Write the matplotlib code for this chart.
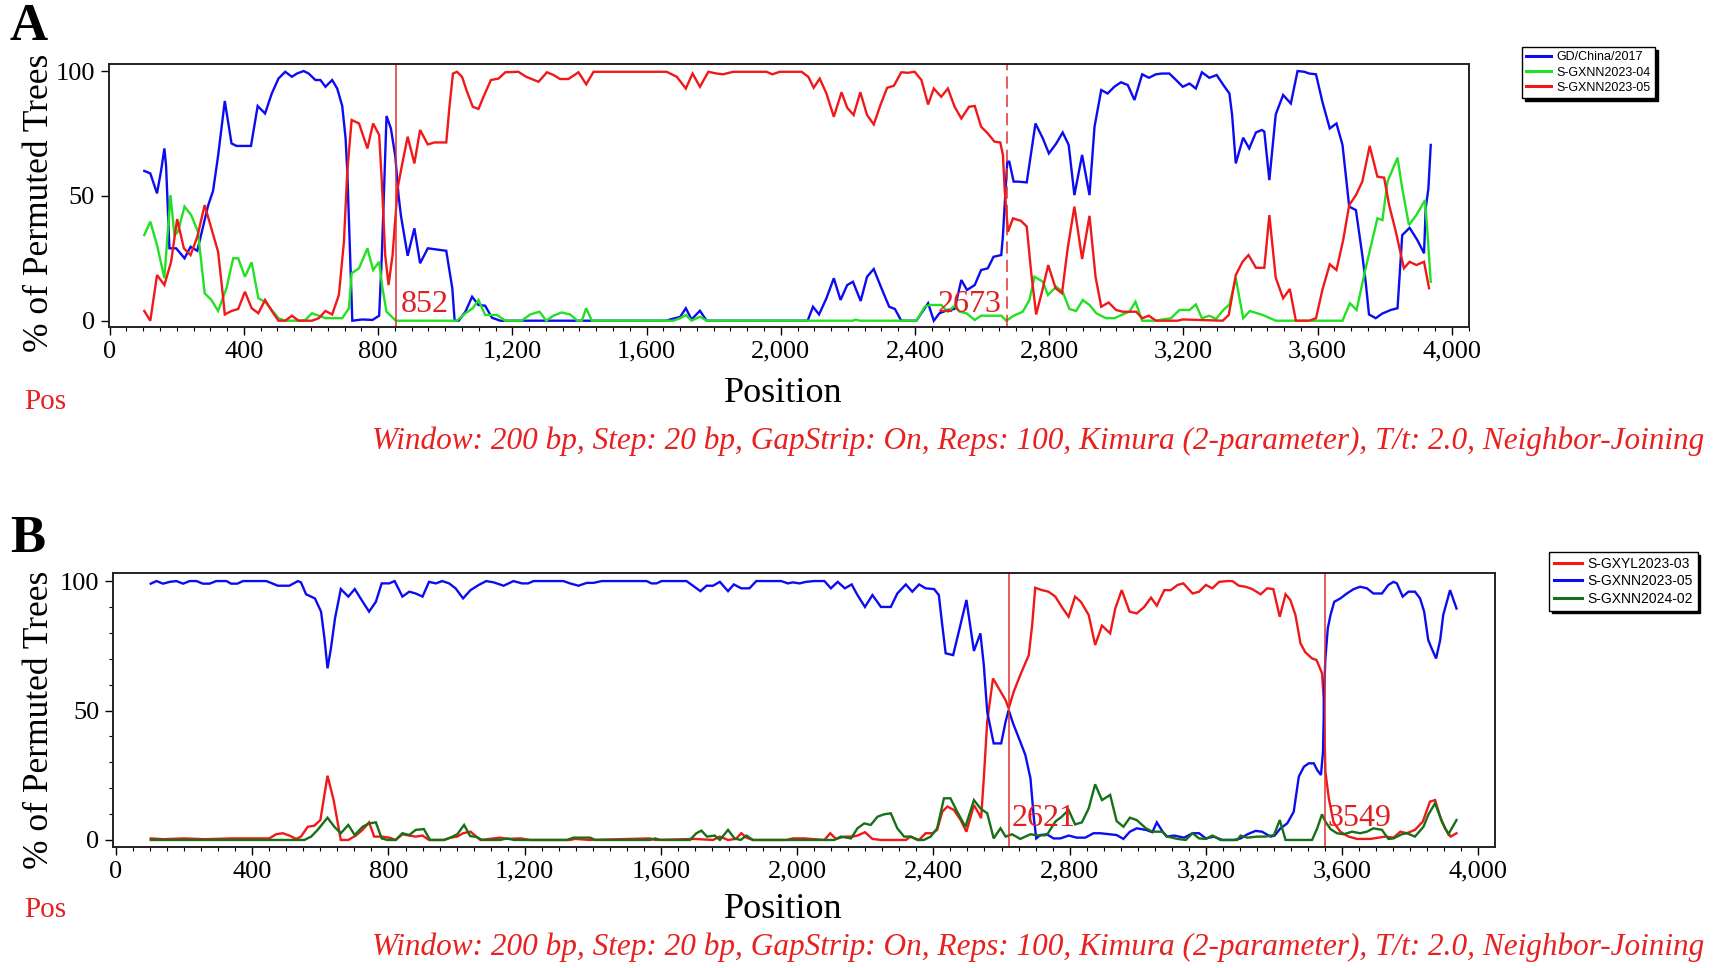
import matplotlib
matplotlib.use("Agg")
import matplotlib.pyplot as plt
from matplotlib.ticker import MultipleLocator, FuncFormatter

# ---- panel A: (position, % of permuted trees) ----
a_blue = [(103, 60), (121, 59), (141, 51), (153, 60), (163, 69), (168, 62), (178, 29), (198, 29),
          (223, 25), (241, 29.6), (261, 28), (293, 46), (308, 52), (323, 66), (343, 88), (363, 71),
          (378, 70), (421, 70), (441, 86), (463, 83), (483, 91), (503, 97), (523, 99.7), (543, 97.7),
          (558, 99), (578, 100), (593, 99), (613, 96.4), (628, 96.4), (643, 93.7), (663, 96.4),
          (678, 93), (693, 86), (703, 73), (708, 60), (715, 32), (723, 0), (753, 0.5), (783, 0.3),
          (803, 2), (811, 26), (825, 82), (838, 77), (851, 66), (861, 50), (868, 42), (888, 26),
          (908, 37), (925, 23), (948, 29), (1003, 28), (1021, 13), (1028, 0), (1040, 0), (1060, 3.6),
          (1080, 9.6), (1099, 6.3), (1119, 6), (1139, 1.2), (1164, 0), (1660, 0), (1670, 0.5),
          (1700, 1.5), (1717, 5), (1734, 0.5), (1759, 4), (1779, 0), (2080, 0), (2096, 5.6),
          (2114, 2.5), (2136, 9), (2158, 17), (2178, 8.3), (2198, 14.3), (2215, 15.6), (2238, 7.9),
          (2257, 17.6), (2277, 20.7), (2300, 13), (2323, 5.6), (2340, 4.7), (2359, 0), (2404, 0),
          (2439, 7), (2456, 0), (2473, 3), (2498, 4.3), (2518, 4.7), (2538, 16.3), (2555, 12.3),
          (2578, 14.3), (2597, 20.3), (2617, 21), (2634, 25.6), (2657, 26.3), (2662, 34), (2670, 53),
          (2675, 63.7), (2681, 63.7), (2694, 55.7), (2707, 55.7), (2733, 55.4), (2759, 79),
          (2781, 73), (2799, 67), (2821, 71), (2840, 75.4), (2858, 70.4), (2875, 50.3), (2898, 66.4),
          (2920, 50.3), (2935, 77.7), (2955, 92.4), (2974, 91), (2994, 93.7), (3014, 95.5),
          (3034, 94.4), (3054, 88.4), (3077, 98.7), (3097, 97.3), (3118, 98.7), (3136, 99),
          (3158, 99), (3178, 96.4), (3198, 93.7), (3218, 95), (3237, 93), (3255, 99.5), (3277, 97.3),
          (3299, 98.4), (3319, 94.4), (3337, 91), (3345, 82.4), (3356, 63), (3378, 73.3), (3396, 69),
          (3416, 75.4), (3434, 76.4), (3441, 75.7), (3456, 56.3), (3475, 82.6), (3497, 90.4),
          (3520, 87), (3540, 100), (3560, 99.7), (3575, 99), (3595, 98.7), (3614, 87.7), (3636, 77),
          (3656, 79), (3674, 70.4), (3694, 45.7), (3714, 44.3), (3733, 26.3), (3743, 15.6),
          (3753, 2.5), (3773, 1), (3793, 2.9), (3818, 4.3), (3838, 5), (3852, 34.3), (3874, 37.2),
          (3897, 32.3), (3917, 27), (3922, 45), (3930, 53), (3937, 70.4)]

a_green = [(103, 34.3), (121, 39.7), (141, 30.3), (163, 17), (181, 50.3), (193, 34.3), (203, 35.6),
           (223, 45.7), (243, 42.3), (263, 35.6), (283, 11), (303, 8.3), (323, 3.9), (348, 13),
           (368, 25), (383, 25), (403, 17.6), (423, 23.4), (443, 9), (463, 7.6), (483, 4.3), (503, 1),
           (523, 0), (563, 0), (583, 0.3), (603, 3), (623, 2), (643, 1), (693, 1), (713, 5), (721, 19),
           (743, 21), (768, 29), (785, 20.3), (803, 23.6), (813, 13), (825, 3.6), (853, 0), (1035, 0),
           (1060, 3), (1082, 5), (1099, 8.3), (1119, 2.3), (1154, 2.3), (1179, 0), (1228, 0),
           (1253, 2.5), (1281, 3.6), (1301, 0), (1322, 2), (1347, 3.3), (1372, 2.5), (1394, 0),
           (1407, 0), (1420, 5), (1437, 0), (1680, 0), (1700, 1), (1717, 2.3), (1734, 0), (1759, 1.6),
           (1779, 0), (2215, 0), (2222, 0.4), (2235, 0), (2404, 0), (2429, 5.6), (2444, 6.3),
           (2478, 6.3), (2498, 3.6), (2518, 6), (2533, 3.6), (2553, 3), (2578, 0.3), (2597, 2),
           (2657, 2), (2672, 0), (2694, 2), (2721, 3.6), (2741, 8.3), (2756, 17.6), (2781, 15.6),
           (2796, 10.3), (2821, 13.6), (2840, 11.6), (2860, 4.7), (2880, 3.9), (2900, 8.3),
           (2920, 6.3), (2940, 3), (2969, 1), (2994, 1), (3019, 2.5), (3039, 3.6), (3057, 7.6),
           (3077, 0), (3118, 0), (3138, 0.5), (3163, 1), (3188, 4.3), (3218, 4.3), (3237, 6.5),
           (3255, 1), (3277, 2), (3297, 0.7), (3319, 4.3), (3337, 6.5), (3356, 17), (3378, 1),
           (3398, 3.9), (3436, 2.3), (3475, 0), (3674, 0), (3696, 7), (3716, 4.3), (3743, 21),
           (3778, 41), (3793, 40.3), (3808, 55.7), (3838, 65.3), (3852, 53), (3872, 38.3),
           (3894, 42.3), (3920, 48.3), (3927, 35.6), (3937, 15.6)]

a_red = [(103, 3.9), (121, 0), (141, 18.3), (163, 14.3), (183, 23.6), (201, 40.7), (221, 29),
         (241, 26.3), (261, 33.6), (283, 46.3), (303, 37), (323, 27.6), (335, 13), (343, 2.5),
         (363, 3.9), (383, 4.7), (403, 11.6), (423, 5), (443, 3), (463, 8.3), (483, 3.9), (503, 0),
         (523, 0), (543, 2), (563, 0), (603, 0), (623, 1), (643, 3.9), (663, 2.5), (683, 10.3),
         (698, 31.6), (708, 59.7), (721, 80.4), (743, 79), (768, 69), (785, 79), (803, 74.4),
         (811, 55.7), (821, 26.3), (831, 14.3), (843, 26.3), (858, 53), (871, 62.3), (888, 73.7),
         (908, 63), (925, 76.4), (948, 70.6), (968, 71.4), (1003, 71.4), (1013, 86.4), (1023, 99),
         (1035, 99.7), (1050, 97.7), (1065, 91.7), (1082, 85.7), (1099, 84.8), (1114, 89.7),
         (1136, 96.4), (1159, 97), (1179, 99.5), (1218, 99.7), (1241, 97.7), (1278, 95.7),
         (1303, 99.5), (1323, 98.4), (1342, 96.8), (1367, 96.8), (1397, 99.5), (1420, 94.7),
         (1442, 99.7), (1660, 99.7), (1690, 97.7), (1717, 93), (1737, 99), (1759, 93.7),
         (1784, 99.7), (1809, 99), (1828, 98.7), (1858, 99.7), (1957, 99.7), (1975, 98.7),
         (1997, 99.7), (2062, 99.7), (2082, 97.7), (2098, 93.3), (2116, 97), (2136, 91),
         (2158, 81.7), (2181, 91.5), (2198, 85.3), (2217, 82.4), (2237, 91.5), (2257, 82.4),
         (2277, 78.6), (2297, 86.4), (2317, 93.3), (2337, 94.1), (2359, 99.5), (2379, 99.3),
         (2399, 99.7), (2419, 96.4), (2439, 86.6), (2456, 93), (2478, 89.7), (2498, 93),
         (2518, 85.7), (2538, 81), (2561, 85.7), (2578, 86), (2597, 77.7), (2617, 75),
         (2637, 71.7), (2654, 71.4), (2662, 66.4), (2667, 53), (2677, 35.6), (2692, 41),
         (2716, 40), (2733, 37.7), (2746, 19.6), (2761, 2.5), (2779, 11.9), (2797, 22.3),
         (2819, 13), (2838, 11), (2855, 29), (2875, 45.7), (2898, 24.7), (2920, 42), (2938, 17.6),
         (2955, 5.6), (2977, 7.3), (2999, 4.3), (3019, 3.6), (3059, 3.6), (3077, 1), (3097, 2),
         (3118, 0), (3183, 0), (3198, 0.5), (3317, 0), (3335, 2.3), (3356, 18.3), (3376, 23.6),
         (3394, 26.3), (3416, 21.2), (3441, 21.2), (3456, 42.3), (3475, 17.2), (3497, 9),
         (3517, 12.7), (3535, 0), (3575, 0), (3595, 1), (3614, 12.3), (3636, 22.6), (3656, 20.3),
         (3676, 32.3), (3694, 46.3), (3714, 50.3), (3733, 55.7), (3755, 70), (3778, 57.7),
         (3798, 57.3), (3813, 46.3), (3833, 35.6), (3847, 27), (3857, 21), (3874, 23.6),
         (3894, 22.3), (3917, 23.6), (3932, 13)]

a_names = ["GD/China/2017", "S-GXNN2023-04", "S-GXNN2023-05"]
a_breaks = [852, 2673]

# ---- panel B ----
b_red = [(102, 0.6), (140, 0.3), (200, 0.6), (260, 0.3), (340, 0.6), (450, 0.6), (470, 2.2),
         (490, 2.6), (509, 1.7), (529, 0.4), (543, 1.3), (563, 5.1), (582, 5.5), (600, 7.7),
         (621, 24.8), (639, 15.4), (660, 0), (682, 0), (704, 1.7), (724, 3.9), (743, 6.8),
         (758, 1.3), (780, 1.3), (802, 0.9), (821, 0), (841, 2.2), (861, 1.7), (880, 1.3),
         (900, 1.7), (919, 0), (963, 0), (982, 0.9), (1002, 1.3), (1019, 2.6), (1041, 3.2),
         (1070, 0), (1128, 0.9), (1148, 0.4), (1187, 0.6), (1216, 0), (1333, 0), (1348, 0.4),
         (1392, 0), (1568, 0.6), (1583, 0), (1699, 0.4), (1753, 0), (1773, 1.3), (1797, 0),
         (1820, 0.4), (1836, 2.6), (1851, 0.9), (1870, 0), (1968, 0), (1987, 0.6), (2021, 0.6),
         (2080, 0), (2097, 2.6), (2114, 0.4), (2138, 1.3), (2163, 1.3), (2177, 1.7), (2199, 3),
         (2221, 0.4), (2246, 0), (2319, 0), (2333, 1.3), (2358, 0), (2377, 2.6), (2397, 2.6),
         (2411, 3.9), (2426, 10.9), (2441, 12.9), (2460, 11.6), (2480, 7.7), (2497, 3.2),
         (2519, 13.5), (2533, 10.3), (2540, 8.4), (2548, 23.8), (2558, 45.7), (2575, 62.4),
         (2595, 57.9), (2612, 54), (2621, 50.8), (2636, 57.3), (2655, 63.7), (2680, 71.4),
         (2690, 83), (2699, 97.4), (2719, 96.5), (2738, 95.9), (2758, 94), (2777, 90),
         (2797, 86.2), (2816, 94), (2833, 92), (2856, 86.9), (2875, 75.3), (2895, 82.8),
         (2919, 79.8), (2934, 89.4), (2953, 96.5), (2976, 88.2), (2997, 87.5), (3019, 90),
         (3039, 93.6), (3056, 90.5), (3078, 96.5), (3097, 96.5), (3117, 98.5), (3134, 99.1),
         (3161, 95.2), (3180, 95.9), (3200, 98.5), (3219, 97.2), (3239, 99.7), (3263, 100),
         (3278, 100), (3297, 98.2), (3317, 97.8), (3336, 96.9), (3361, 94.9), (3380, 97.2),
         (3398, 96.9), (3417, 86.2), (3434, 94.9), (3448, 92.7), (3463, 86.9), (3478, 75.9),
         (3492, 72.5), (3512, 70.1), (3525, 69.5), (3541, 64.4), (3546, 54.7), (3551, 26.4),
         (3561, 16.1), (3575, 6.8), (3595, 3.2), (3619, 1.3), (3644, 0.4), (3683, 0.4),
         (3707, 0.9), (3727, 1.3), (3751, 0.9), (3771, 3.2), (3790, 2.6), (3814, 3.9),
         (3837, 7.1), (3858, 14.8), (3873, 15.4), (3888, 9), (3902, 4.5), (3919, 1.3), (3936, 2.6)]

b_blue = [(102, 99), (119, 100), (138, 99), (158, 99.7), (177, 100), (197, 99), (216, 100),
          (236, 100), (255, 99), (275, 99), (294, 100), (324, 100), (338, 99), (356, 99), (373, 100),
          (441, 100), (455, 99.3), (475, 98.2), (509, 98.2), (534, 100), (543, 99.5), (558, 94.9),
          (573, 94), (584, 93.3), (602, 88.2), (612, 77.9), (621, 66.3), (631, 74), (643, 85.6),
          (660, 96.9), (682, 94), (701, 96.9), (721, 92.7), (743, 88.2), (763, 92), (780, 99.1),
          (802, 99.1), (818, 100), (841, 94), (861, 95.9), (880, 95.2), (900, 94), (919, 99.7),
          (939, 99.1), (958, 100), (978, 99.1), (997, 97.2), (1019, 93.3), (1041, 96.5),
          (1065, 98.5), (1087, 100), (1109, 99.5), (1138, 98.2), (1167, 100), (1192, 99.1),
          (1210, 99.1), (1226, 100), (1314, 100), (1333, 99.1), (1358, 98.2), (1382, 99.3),
          (1402, 99.3), (1426, 100), (1558, 100), (1572, 99.1), (1587, 99.1), (1602, 100),
          (1675, 100), (1694, 98.2), (1716, 96.1), (1734, 98.2), (1753, 98.2), (1773, 99.7),
          (1797, 96.1), (1814, 98.7), (1836, 97.2), (1860, 97.2), (1880, 100), (1953, 100),
          (1973, 99.1), (1987, 99.5), (2007, 99.1), (2026, 99.7), (2050, 100), (2080, 100),
          (2099, 97.2), (2119, 99.7), (2140, 97.2), (2160, 98.7), (2177, 94.6), (2199, 90),
          (2221, 94.6), (2246, 90), (2275, 90), (2294, 95.2), (2319, 98.7), (2338, 95.9),
          (2358, 98.7), (2377, 97.2), (2402, 96.9), (2416, 94.6), (2426, 83), (2436, 72.1),
          (2458, 71.4), (2478, 82.4), (2497, 92.7), (2519, 73), (2538, 79.8), (2548, 67.6),
          (2558, 49.5), (2577, 37.3), (2599, 37.3), (2612, 45.7), (2621, 50.2), (2634, 45),
          (2655, 38), (2670, 32.8), (2685, 23.8), (2695, 8.4), (2702, 0.6), (2714, 1.9),
          (2733, 2.2), (2753, 0.6), (2773, 0.6), (2797, 1.7), (2821, 0.9), (2846, 0.9),
          (2870, 2.6), (2890, 2.6), (2919, 2.2), (2938, 1.9), (2958, 0.4), (2977, 3.2),
          (2997, 4.5), (3024, 3.9), (3043, 3), (3056, 6.8), (3073, 3.2), (3085, 1.3), (3107, 1.7),
          (3136, 0.9), (3161, 2.6), (3180, 2.6), (3200, 0.6), (3224, 1.3), (3248, 0), (3283, 0),
          (3302, 0.6), (3322, 2.2), (3346, 3.5), (3365, 3.2), (3390, 1.3), (3402, 1.7),
          (3419, 4.5), (3439, 6.4), (3458, 10.9), (3473, 24.5), (3488, 28.3), (3502, 29.6),
          (3517, 29.6), (3527, 27), (3538, 25.1), (3544, 34.1), (3548, 59.8), (3551, 70.1),
          (3558, 81.7), (3566, 86.9), (3577, 92), (3595, 93.3), (3614, 95.2), (3634, 96.9),
          (3653, 97.8), (3673, 97.2), (3692, 95.2), (3717, 95.2), (3736, 98.5), (3751, 99.7),
          (3761, 99.1), (3778, 94), (3795, 95.9), (3814, 95.9), (3829, 93.3), (3841, 88.2),
          (3853, 77.2), (3863, 74), (3876, 70.1), (3888, 77.2), (3897, 86.9), (3917, 96.5),
          (3936, 89.4)]

b_green = [(102, 0), (553, 0), (573, 1.3), (592, 3.9), (621, 8.6), (641, 5.1), (660, 2.6),
           (682, 5.8), (701, 1.9), (724, 5.1), (743, 6.4), (763, 6.8), (780, 0.6), (797, 0),
           (821, 0), (841, 2.6), (861, 1.9), (880, 3.9), (904, 4.2), (922, 0), (963, 0), (982, 0.9),
           (1002, 2.2), (1022, 5.8), (1040, 1.5), (1057, 1.2), (1075, 0), (1128, 0), (1148, 0.6),
           (1168, 0), (1324, 0), (1343, 0.9), (1392, 0.9), (1407, 0), (1568, 0), (1583, 0.6),
           (1598, 0), (1685, 0), (1704, 2.6), (1719, 3.6), (1735, 1.3), (1758, 1.7), (1773, 0),
           (1797, 3.9), (1816, 0.6), (1834, 0), (1851, 1.7), (1870, 0), (2109, 0), (2128, 1.3),
           (2158, 0.6), (2177, 4.5), (2197, 6.4), (2216, 5.8), (2236, 9), (2255, 9.9), (2275, 10.3),
           (2294, 4.5), (2314, 1.3), (2333, 1.3), (2353, 0), (2372, 0), (2392, 1.3), (2411, 4.5),
           (2431, 16.1), (2450, 16.1), (2470, 10.9), (2494, 5.1), (2519, 15.4), (2538, 12.2),
           (2558, 10.3), (2577, 0.6), (2597, 4.5), (2612, 1.3), (2631, 2.2), (2655, 0.4),
           (2685, 2.2), (2709, 1.7), (2733, 1.9), (2758, 7.1), (2777, 9), (2797, 11.6), (2816, 6),
           (2836, 6.8), (2856, 12.2), (2875, 21.5), (2895, 15.4), (2919, 17.4), (2938, 7.3),
           (2958, 5.1), (2977, 8.6), (2997, 7.7), (3024, 4.5), (3043, 3.2), (3073, 3.2),
           (3087, 1.3), (3117, 0.4), (3141, 0), (3161, 2.6), (3180, 0.6), (3200, 0.4), (3219, 1.7),
           (3243, 0), (3292, 0), (3302, 1.7), (3322, 0.9), (3351, 1.3), (3375, 1.3), (3400, 1.9),
           (3417, 7.7), (3434, 0), (3512, 0), (3527, 4.5), (3541, 9.9), (3551, 7.1), (3566, 4.2),
           (3585, 2.6), (3605, 2.2), (3629, 3.2), (3653, 2.6), (3673, 3.2), (3692, 4.5),
           (3717, 3.9), (3736, 0.4), (3751, 0.6), (3775, 2.2), (3790, 2.6), (3814, 1.3),
           (3839, 5.1), (3853, 9.7), (3873, 14.2), (3893, 7.1), (3912, 2.2), (3936, 7.7)]

b_names = ["S-GXYL2023-03", "S-GXNN2023-05", "S-GXNN2024-02"]
b_breaks = [2621, 3549]

settings = "Window: 200 bp, Step: 20 bp, GapStrip: On, Reps: 100, Kimura (2-parameter), T/t: 2.0, Neighbor-Joining"

BLUE = "#0c0cf0"
LIME = "#22e022"
RED = "#f01818"
DKGREEN = "#167016"
LINERED = "#e03030"
SERIF = "Liberation Serif"

W, H = 1713, 968
fig = plt.figure(figsize=(W / 100, H / 100), dpi=100)


def box(l, t, r, b):
    # pixel box -> figure fraction
    return [l / W, 1 - b / H, (r - l) / W, (b - t) / H]


def style_axes(ax, xlim, ylim, minor_y):
    ax.set_xlim(*xlim)
    ax.set_ylim(*ylim)
    ax.xaxis.set_major_locator(MultipleLocator(400))
    ax.xaxis.set_minor_locator(MultipleLocator(50))
    ax.xaxis.set_major_formatter(FuncFormatter(lambda v, p: f"{int(v):,}"))
    ax.set_yticks([0, 50, 100])
    if minor_y:
        ax.yaxis.set_minor_locator(MultipleLocator(10))
    ax.tick_params(which="major", length=6, width=1, pad=4, labelsize=19)
    ax.tick_params(which="minor", length=3, width=0.8)
    for lab in ax.get_xticklabels() + ax.get_yticklabels():
        lab.set_family(SERIF)
    for s in ax.spines.values():
        s.set_linewidth(1.4)
        s.set_color("#222222")


def draw(ax, series, colors):
    handles = []
    for pts, c in zip(series, colors):
        xs, ys = zip(*pts)
        h, = ax.plot(xs, ys, color=c, lw=1.7, solid_joinstyle="miter")
        handles.append(h)
    return handles


def add_legend(handles, names, x, y, size):
    leg = fig.legend(handles, names, loc="upper left", bbox_to_anchor=(x / W, 1 - y / H),
                     prop={"family": "Liberation Sans", "size": size}, frameon=True,
                     fancybox=False, edgecolor="black", framealpha=1,
                     shadow={"color": "black", "alpha": 1}, borderpad=0.35,
                     labelspacing=0.25, handlelength=2.0, handletextpad=0.4, borderaxespad=0)
    leg.get_frame().set_linewidth(1.0)
    for ln in leg.get_lines():
        ln.set_linewidth(2.2)


# ---- panel A ----
ax_a = fig.add_axes(box(108.7, 64.3, 1469, 326.7))
h_a = draw(ax_a, [a_blue, a_green, a_red], [BLUE, LIME, RED])
ax_a.axvline(a_breaks[0], color=LINERED, lw=1.1)
ax_a.axvline(a_breaks[1], color=LINERED, lw=1.1, ls=(0, (8, 4)))
style_axes(ax_a, (-3, 4051), (-2.4, 102.7), False)
ax_a.text(a_breaks[0] + 14, 3.5, str(a_breaks[0]), color="#e02020", fontsize=23, family=SERIF)
ax_a.text(a_breaks[1] - 14, 3.5, str(a_breaks[1]), color="#e02020", fontsize=23, family=SERIF,
          ha="right")
add_legend(h_a, a_names, 1522, 47, 9)

# ---- panel B ----
ax_b = fig.add_axes(box(113.3, 573.3, 1495, 846.7))
h_b = draw(ax_b, [b_red, b_blue, b_green], [RED, BLUE, DKGREEN])
for bp in b_breaks:
    ax_b.axvline(bp, color=LINERED, lw=1.1)
style_axes(ax_b, (-8, 4049), (-2.6, 103), True)
for bp in b_breaks:
    ax_b.text(bp + 8, 5.5, str(bp), color="#e02020", fontsize=23, family=SERIF)
add_legend(h_b, b_names, 1549, 552, 10)

# ---- figure texts ----
for lab, y in [("A", 27), ("B", 539)]:
    fig.text(10 / W, 1 - y / H, lab, fontsize=38, fontweight="bold", family=SERIF, va="center")

for yc in [203, 720]:
    fig.text(40 / W, 1 - yc / H, "% of Permuted Trees", rotation=90, fontsize=25.5,
             family=SERIF, ha="center", va="center")

for yc in [393, 909]:
    fig.text(783 / W, 1 - yc / H, "Position", fontsize=26, family=SERIF,
             ha="center", va="center")

for y_pos, y_set in [(402, 441), (910, 947)]:
    fig.text(24 / W, 1 - y_pos / H, "Pos", fontsize=21, family=SERIF, color="#e82020",
             va="center")
    fig.text(1704 / W, 1 - y_set / H, settings, fontsize=22.5, family=SERIF, style="italic",
             color="#e82020", ha="right", va="center")

fig.savefig("out.png", dpi=100)
